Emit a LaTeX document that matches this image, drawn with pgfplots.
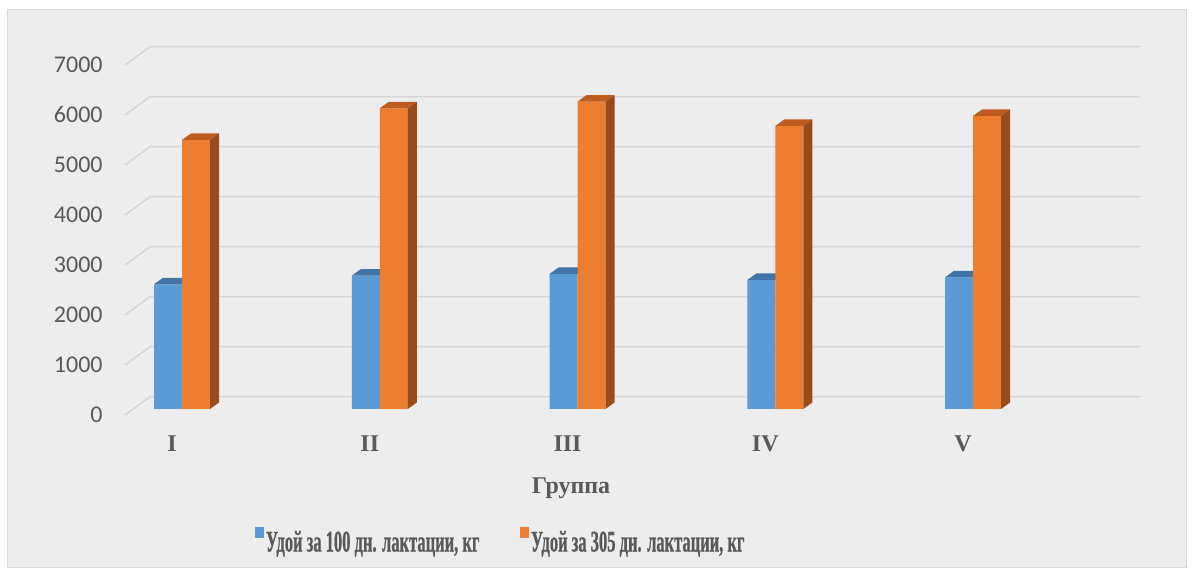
\documentclass[border=0pt]{standalone}
\usepackage{pgfplots}
\pgfplotsset{compat=1.18}
\usepackage{pgfplotstable}
\usepackage{fontspec}
\setmainfont{Liberation Serif}
\newfontfamily\calibri{Carlito}
\newfontface\legfont[FakeStretch=0.55,FakeBold=0.6]{Liberation Serif Bold}

\definecolor{bg}{HTML}{EDEDED}
\definecolor{border}{HTML}{D9D9D9}
\definecolor{gridc}{HTML}{D6D6D6}
\definecolor{txt}{HTML}{595959}
\definecolor{bfront}{HTML}{5B9BD5}
\definecolor{btop}{HTML}{4374A8}
\definecolor{ofront}{HTML}{ED7D31}
\definecolor{otop}{HTML}{BE5B1E}
\definecolor{oside}{HTML}{9A4B1B}

\pgfplotstableread{
g b o
1 2494 5380
2 2667 6014
3 2700 6147
4 2580 5660
5 2633 5860
}\data

\begin{document}
\begin{tikzpicture}
\fill[bg, draw=border, line width=0.5pt] (3.5pt,2.5pt) rectangle (593pt,281pt);
\begin{axis}[name=ax, at={(0,0)}, anchor=south west,
  scale only axis, width=596pt, height=286pt,
  xmin=0.07965, xmax=6.10746, ymin=-3260, ymax=8180,
  axis line style={draw=none}, major tick style={draw=none}, major tick length=0pt,
  clip=false,
  xtick={1,2,3,4,5}, xticklabels={I,II,III,IV,V},
  ytick={0,1000,...,7000},
  scaled y ticks=false,
  /pgf/number format/1000 sep={},
  /pgf/number format/assume math mode=true,
  yticklabel style={font=\calibri\fontsize{12}{14}\selectfont, text=txt, anchor=base east, inner sep=0pt, xshift=51.5pt, yshift=-7pt},
  xticklabel style={font=\bfseries\fontsize{12}{14}\selectfont, text=txt, anchor=base, inner sep=0pt, xshift=-5pt, yshift=60.25pt},
  legend columns=2,
  legend style={draw=none, fill=none, at={(rel axis cs:0.2139,0.0530)}, anchor=west,
    font=\legfont\fontsize{15}{17}\selectfont, text=txt, inner sep=0pt,
    nodes={inner sep=1pt},
    /tikz/every even column/.append style={column sep=19.5pt}},
]
% back wall gridlines
\pgfplotsinvokeforeach{0,1000,...,7000}{%
  \pgfmathsetmacro\ya{#1-120}\pgfmathsetmacro\yb{#1+246}%
  \edef\tmp{\noexpand\draw[gridc, line width=0.75pt] (axis cs:0.7118,\ya) -- (axis cs:0.8382,\yb) -- (axis cs:5.8445,\yb);}%
  \tmp
}
% blue front faces
\addplot[ybar, bar width=0.1416, bar shift=-0.0708, fill=bfront, draw=none,
  legend image code/.code={\fill[bfront] (0pt,2.1pt) rectangle (4.3pt,7.9pt);}]
  table[x=g, y=b] {\data};
\addlegendentry{Удой за 100 дн. лактации, кг}
% blue top faces
\pgfplotsinvokeforeach{0,...,4}{%
  \pgfplotstablegetelem{#1}{b}\of\data
  \pgfmathsetmacro\yv{\pgfplotsretval}\pgfmathsetmacro\yt{\pgfplotsretval+130}%
  \pgfmathsetmacro\xa{#1+0.8584}\pgfmathsetmacro\xb{#1+0.9039}%
  \pgfmathsetmacro\xc{#1+1.0455}\pgfmathsetmacro\xd{#1+1}%
  \edef\tmp{\noexpand\fill[btop] (axis cs:\xa,\yv) -- (axis cs:\xb,\yt) -- (axis cs:\xc,\yt) -- (axis cs:\xd,\yv) -- cycle;}%
  \tmp
}
% orange front faces
\addplot[ybar, bar width=0.1416, bar shift=0.0708, fill=ofront, draw=none,
  legend image code/.code={\fill[ofront] (0pt,2.1pt) rectangle (4.3pt,7.9pt);}]
  table[x=g, y=o] {\data};
\addlegendentry{Удой за 305 дн. лактации, кг}
% orange top and side faces
\pgfplotsinvokeforeach{0,...,4}{%
  \pgfplotstablegetelem{#1}{o}\of\data
  \pgfmathsetmacro\yv{\pgfplotsretval}\pgfmathsetmacro\yt{\pgfplotsretval+130}%
  \pgfmathsetmacro\xa{#1+1}\pgfmathsetmacro\xb{#1+1.0455}%
  \pgfmathsetmacro\xc{#1+1.1871}\pgfmathsetmacro\xd{#1+1.1416}%
  \edef\tmp{\noexpand\fill[otop] (axis cs:\xa,\yv) -- (axis cs:\xb,\yt) -- (axis cs:\xc,\yt) -- (axis cs:\xd,\yv) -- cycle;
    \noexpand\fill[oside] (axis cs:\xd,0) -- (axis cs:\xc,130) -- (axis cs:\xc,\yt) -- (axis cs:\xd,\yv) -- cycle;}%
  \tmp
}
\node[font=\bfseries\fontsize{12}{14}\selectfont, text=txt, anchor=base] at (axis cs:2.967,-1700) {Группа};
\end{axis}
\pgfresetboundingbox
\path[use as bounding box] (0,0) rectangle (596pt,286pt);
\end{tikzpicture}
\end{document}
